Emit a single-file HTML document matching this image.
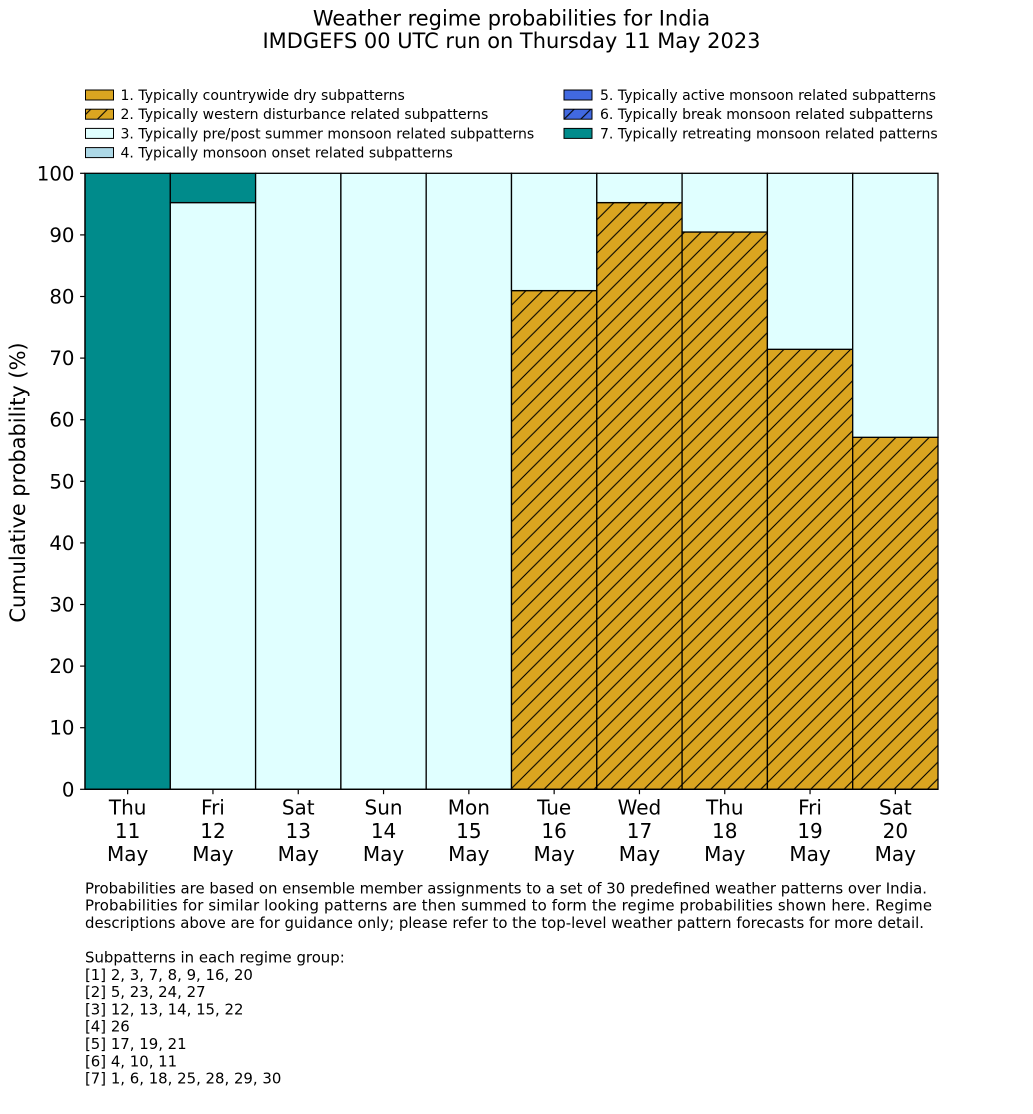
<!DOCTYPE html>
<html>
<head>
<meta charset="utf-8">
<style>
html,body{margin:0;padding:0;background:#fff;}
svg{display:block;}
text{font-family:"DejaVu Sans","Liberation Sans",sans-serif;fill:#000;}
</style>
</head>
<body>
<svg width="1033" height="1114" viewBox="0 0 1033 1114" xmlns="http://www.w3.org/2000/svg">
<defs>
<pattern id="h" patternUnits="userSpaceOnUse" width="16.6667" height="16.6667">
<rect x="0" y="0" width="16.6667" height="16.6667" fill="#DAA520"/>
<path d="M-2,18.6667 L18.6667,-2 M-2,2 L2,-2 M14.6667,18.6667 L18.6667,14.6667" stroke="#000" stroke-width="1.1" fill="none"/>
</pattern>
<pattern id="hb" patternUnits="userSpaceOnUse" width="16.6667" height="16.6667">
<rect x="0" y="0" width="16.6667" height="16.6667" fill="#4169E1"/>
<path d="M-2,18.6667 L18.6667,-2 M-2,2 L2,-2 M14.6667,18.6667 L18.6667,14.6667" stroke="#000" stroke-width="1.1" fill="none"/>
</pattern>
</defs>
<rect width="1033" height="1114" fill="#fff"/>

<!-- Title -->
<text x="511.5" y="25.5" font-size="20.95" text-anchor="middle">Weather regime probabilities for India</text>
<text x="511.5" y="48" font-size="20.95" text-anchor="middle">IMDGEFS 00 UTC run on Thursday 11 May 2023</text>

<!-- Legend -->
<g stroke="#000" stroke-width="1">
<rect x="85.5" y="90" width="28" height="10" fill="#DAA520"/>
<rect x="85.5" y="109.2" width="28" height="10" fill="url(#h)"/>
<rect x="85.5" y="128.4" width="28" height="10" fill="#E0FFFF"/>
<rect x="85.5" y="147.6" width="28" height="10" fill="#ADD8E6"/>
<rect x="564" y="90" width="28" height="10" fill="#4169E1"/>
<rect x="564" y="109.2" width="28" height="10" fill="url(#hb)"/>
<rect x="564" y="128.4" width="28" height="10" fill="#008B8B"/>
</g>
<g font-size="14.03">
<text x="120.5" y="100">1. Typically countrywide dry subpatterns</text>
<text x="120.5" y="119.2">2. Typically western disturbance related subpatterns</text>
<text x="120.5" y="138.4">3. Typically pre/post summer monsoon related subpatterns</text>
<text x="120.5" y="157.6">4. Typically monsoon onset related subpatterns</text>
<text x="600" y="100">5. Typically active monsoon related subpatterns</text>
<text x="600" y="119.2">6. Typically break monsoon related subpatterns</text>
<text x="600" y="138.4">7. Typically retreating monsoon related patterns</text>
</g>

<!-- Bars -->
<g stroke="#000" stroke-width="1.3">
<rect x="85" y="173.3" width="85.3" height="616" fill="#008B8B"/>
<rect x="170.3" y="202.6" width="85.3" height="586.7" fill="#E0FFFF"/>
<rect x="170.3" y="173.3" width="85.3" height="29.3" fill="#008B8B"/>
<rect x="255.6" y="173.3" width="85.3" height="616" fill="#E0FFFF"/>
<rect x="340.9" y="173.3" width="85.3" height="616" fill="#E0FFFF"/>
<rect x="426.2" y="173.3" width="85.3" height="616" fill="#E0FFFF"/>
<rect x="511.5" y="290.6" width="85.3" height="498.7" fill="url(#h)"/>
<rect x="511.5" y="173.3" width="85.3" height="117.3" fill="#E0FFFF"/>
<rect x="596.8" y="202.6" width="85.3" height="586.7" fill="url(#h)"/>
<rect x="596.8" y="173.3" width="85.3" height="29.3" fill="#E0FFFF"/>
<rect x="682.1" y="232" width="85.3" height="557.3" fill="url(#h)"/>
<rect x="682.1" y="173.3" width="85.3" height="58.7" fill="#E0FFFF"/>
<rect x="767.4" y="349.3" width="85.3" height="440" fill="url(#h)"/>
<rect x="767.4" y="173.3" width="85.3" height="176" fill="#E0FFFF"/>
<rect x="852.7" y="437.3" width="85.3" height="352" fill="url(#h)"/>
<rect x="852.7" y="173.3" width="85.3" height="264" fill="#E0FFFF"/>
</g>

<!-- Axes spines -->
<g stroke="#000" stroke-width="1.3" fill="none">
<line x1="85" y1="173.3" x2="85" y2="789.3"/>
<line x1="85" y1="789.3" x2="938" y2="789.3"/>
</g>

<!-- Y ticks -->
<g stroke="#000" stroke-width="1.2">
<line x1="80.1" y1="789.3" x2="85" y2="789.3"/>
<line x1="80.1" y1="727.7" x2="85" y2="727.7"/>
<line x1="80.1" y1="666.1" x2="85" y2="666.1"/>
<line x1="80.1" y1="604.5" x2="85" y2="604.5"/>
<line x1="80.1" y1="542.9" x2="85" y2="542.9"/>
<line x1="80.1" y1="481.3" x2="85" y2="481.3"/>
<line x1="80.1" y1="419.7" x2="85" y2="419.7"/>
<line x1="80.1" y1="358.1" x2="85" y2="358.1"/>
<line x1="80.1" y1="296.5" x2="85" y2="296.5"/>
<line x1="80.1" y1="234.9" x2="85" y2="234.9"/>
<line x1="80.1" y1="173.3" x2="85" y2="173.3"/>
</g>
<g font-size="19.8" text-anchor="end">
<text x="74.5" y="796.3">0</text>
<text x="74.5" y="734.7">10</text>
<text x="74.5" y="673.1">20</text>
<text x="74.5" y="611.5">30</text>
<text x="74.5" y="549.9">40</text>
<text x="74.5" y="488.3">50</text>
<text x="74.5" y="426.7">60</text>
<text x="74.5" y="365.1">70</text>
<text x="74.5" y="303.5">80</text>
<text x="74.5" y="241.9">90</text>
<text x="74.5" y="180.3">100</text>
</g>

<!-- Y label -->
<text x="0" y="0" font-size="20.9" text-anchor="middle" transform="translate(25,482.5) rotate(-90)">Cumulative probability (%)</text>

<!-- X ticks -->
<g stroke="#000" stroke-width="1.2">
<line x1="127.65" y1="789.3" x2="127.65" y2="794.2"/>
<line x1="212.95" y1="789.3" x2="212.95" y2="794.2"/>
<line x1="298.25" y1="789.3" x2="298.25" y2="794.2"/>
<line x1="383.55" y1="789.3" x2="383.55" y2="794.2"/>
<line x1="468.85" y1="789.3" x2="468.85" y2="794.2"/>
<line x1="554.15" y1="789.3" x2="554.15" y2="794.2"/>
<line x1="639.45" y1="789.3" x2="639.45" y2="794.2"/>
<line x1="724.75" y1="789.3" x2="724.75" y2="794.2"/>
<line x1="810.05" y1="789.3" x2="810.05" y2="794.2"/>
<line x1="895.35" y1="789.3" x2="895.35" y2="794.2"/>
</g>
<g font-size="20" text-anchor="middle">
<text x="127.65" y="814.5">Thu</text><text x="127.65" y="837.8">11</text><text x="127.65" y="861.1">May</text>
<text x="212.95" y="814.5">Fri</text><text x="212.95" y="837.8">12</text><text x="212.95" y="861.1">May</text>
<text x="298.25" y="814.5">Sat</text><text x="298.25" y="837.8">13</text><text x="298.25" y="861.1">May</text>
<text x="383.55" y="814.5">Sun</text><text x="383.55" y="837.8">14</text><text x="383.55" y="861.1">May</text>
<text x="468.85" y="814.5">Mon</text><text x="468.85" y="837.8">15</text><text x="468.85" y="861.1">May</text>
<text x="554.15" y="814.5">Tue</text><text x="554.15" y="837.8">16</text><text x="554.15" y="861.1">May</text>
<text x="639.45" y="814.5">Wed</text><text x="639.45" y="837.8">17</text><text x="639.45" y="861.1">May</text>
<text x="724.75" y="814.5">Thu</text><text x="724.75" y="837.8">18</text><text x="724.75" y="861.1">May</text>
<text x="810.05" y="814.5">Fri</text><text x="810.05" y="837.8">19</text><text x="810.05" y="861.1">May</text>
<text x="895.35" y="814.5">Sat</text><text x="895.35" y="837.8">20</text><text x="895.35" y="861.1">May</text>
</g>

<!-- Footer -->
<g font-size="14.9">
<text x="85" y="893.3" textLength="842" lengthAdjust="spacing">Probabilities are based on ensemble member assignments to a set of 30 predefined weather patterns over India.</text>
<text x="85" y="910.6" textLength="847" lengthAdjust="spacing">Probabilities for similar looking patterns are then summed to form the regime probabilities shown here. Regime</text>
<text x="85" y="927.9" textLength="839" lengthAdjust="spacing">descriptions above are for guidance only; please refer to the top-level weather pattern forecasts for more detail.</text>
<text x="85" y="962.5">Subpatterns in each regime group:</text>
<text x="85" y="979.8">[1] 2, 3, 7, 8, 9, 16, 20</text>
<text x="85" y="997.1">[2] 5, 23, 24, 27</text>
<text x="85" y="1014.4">[3] 12, 13, 14, 15, 22</text>
<text x="85" y="1031.7">[4] 26</text>
<text x="85" y="1049">[5] 17, 19, 21</text>
<text x="85" y="1066.3">[6] 4, 10, 11</text>
<text x="85" y="1083.6">[7] 1, 6, 18, 25, 28, 29, 30</text>
</g>
</svg>
</body>
</html>
